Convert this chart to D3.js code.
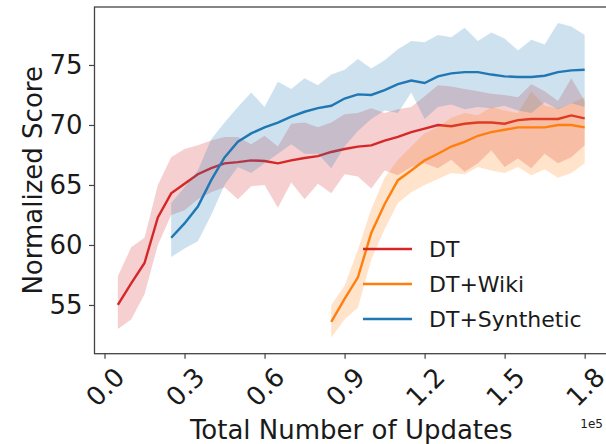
<!DOCTYPE html>
<html>
<head>
  <meta charset="utf-8">
  <script src="https://d3js.org/d3.v7.min.js"></script>
  <style>
    body { margin: 0px; background: #fff; }
    text { font-family: "DejaVu Sans", sans-serif; fill: #1a1a1a; }
  </style>
</head>
<body>
  <svg width="606" height="444"></svg>
  <script>

    // DT (updates in units of 1e5)
    const dtX = [0.05, 0.10, 0.15, 0.20, 0.25, 0.30, 0.35, 0.40, 0.45, 0.50, 0.55, 0.60,
      0.65, 0.70, 0.75, 0.80, 0.85, 0.90, 0.95, 1.00, 1.05, 1.10, 1.15, 1.20,
      1.25, 1.30, 1.35, 1.40, 1.45, 1.50, 1.55, 1.60, 1.65, 1.70, 1.75, 1.80];
    const dtMean = [55.0, 56.8, 58.5, 62.3, 64.3, 65.1, 65.9, 66.4, 66.8, 66.9, 67.05, 67.0,
      66.8, 67.05, 67.25, 67.4, 67.75, 68.0, 68.2, 68.3, 68.7, 69.0, 69.4, 69.7,
      70.0, 69.9, 70.1, 70.2, 70.2, 70.1, 70.4, 70.5, 70.5, 70.5, 70.8, 70.55];
    const dtUpper = [57.4, 59.8, 60.6, 65.0, 67.3, 68.0, 68.3, 68.7, 69.0, 69.0, 68.4, 69.1,
      68.2, 70.1, 70.2, 69.8, 70.2, 70.9, 71.0, 71.4, 71.0, 71.3, 71.5, 72.4,
      73.3, 73.2, 73.0, 72.8, 72.6, 72.5, 72.3, 73.4, 72.8, 72.0, 73.9, 72.0];
    const dtLower = [53.0, 53.8, 55.9, 60.0, 62.5, 62.9, 63.8, 64.4, 64.8, 63.8, 64.9, 65.0,
      63.1, 65.2, 63.8, 65.1, 64.3, 65.9, 65.7, 64.7, 66.2, 65.8, 66.5, 66.8,
      66.4, 67.1, 66.1, 66.8, 67.9, 66.5, 67.2, 66.4, 67.6, 66.8, 67.3, 68.3];

    // DT+Wiki
    const wikiX = [0.85, 0.90, 0.95, 1.00, 1.05, 1.10, 1.15, 1.20, 1.25, 1.30,
      1.35, 1.40, 1.45, 1.50, 1.55, 1.60, 1.65, 1.70, 1.75, 1.80];
    const wikiMean = [53.6, 55.5, 57.3, 61.0, 63.4, 65.4, 66.2, 67.05, 67.6, 68.2,
      68.6, 69.1, 69.4, 69.6, 69.8, 69.8, 69.8, 70.0, 70.0, 69.8];
    const wikiUpper = [55.0, 56.6, 59.6, 63.0, 65.6, 67.1, 68.2, 69.3, 69.8, 70.6,
      71.0, 70.8, 71.5, 71.2, 71.0, 72.8, 71.6, 71.4, 71.8, 72.3];
    const wikiLower = [52.3, 53.8, 54.8, 58.8, 61.3, 63.5, 64.4, 65.0, 65.5, 66.0,
      65.9, 66.5, 66.2, 66.0, 66.5, 65.8, 66.3, 65.6, 66.0, 66.8];

    // DT+Synthetic
    const synX = [0.25, 0.30, 0.35, 0.40, 0.45, 0.50, 0.55, 0.60, 0.65, 0.70, 0.75,
      0.80, 0.85, 0.90, 0.95, 1.00, 1.05, 1.10, 1.15, 1.20, 1.25, 1.30,
      1.35, 1.40, 1.45, 1.50, 1.55, 1.60, 1.65, 1.70, 1.75, 1.80];
    const synMean = [60.6, 61.8, 63.2, 65.4, 67.3, 68.6, 69.3, 69.8, 70.2, 70.7, 71.1,
      71.4, 71.6, 72.2, 72.55, 72.5, 72.9, 73.4, 73.7, 73.5, 74.05, 74.3,
      74.4, 74.4, 74.2, 74.05, 74.0, 74.0, 74.1, 74.4, 74.55, 74.6];
    const synUpper = [63.5, 64.8, 66.2, 68.8, 70.2, 71.5, 72.7, 71.5, 73.6, 73.0, 73.9,
      73.3, 74.2, 74.6, 75.5, 74.7, 75.4, 76.3, 77.0, 76.9, 77.5, 77.3,
      78.1, 77.0, 77.7, 77.2, 76.2, 77.1, 76.7, 78.5, 78.2, 77.5];
    const synLower = [59.0, 59.7, 60.3, 62.5, 65.0, 66.5, 66.0, 66.8, 67.6, 68.4, 67.6,
      67.6, 66.4, 68.2, 69.5, 70.5, 71.2, 71.0, 72.7, 70.5, 71.5, 71.7,
      71.3, 71.5, 71.4, 71.6, 71.2, 71.0, 71.9, 71.3, 71.8, 71.5];

    const seriesNames = ['DT', 'DT+Wiki', 'DT+Synthetic'];
    const seriesColors = ['#d62728', '#ff7f0e', '#1f77b4'];
    const xTickValues = [0.0, 0.3, 0.6, 0.9, 1.2, 1.5, 1.8];
    const yTickValues = [55, 60, 65, 70, 75];

    const series = [
      { x: dtX, mean: dtMean, upper: dtUpper, lower: dtLower },
      { x: wikiX, mean: wikiMean, upper: wikiUpper, lower: wikiLower },
      { x: synX, mean: synMean, upper: synUpper, lower: synLower }
    ];

    const svg = d3.select('svg');
    const margin = { left: 94.5, top: 7, right: -2, bottom: 90.3 };
    const width = +svg.attr('width');
    const height = +svg.attr('height');
    const innerWidth = width - margin.left - margin.right;
    const innerHeight = height - margin.top - margin.bottom;

    const xScale = d3.scaleLinear().domain([-0.0375, 1.8875]).range([0, innerWidth]);
    const yScale = d3.scaleLinear().domain([50.94, 79.83]).range([innerHeight, 0]);

    const g = svg.append('g')
      .attr('transform', `translate(${margin.left},${margin.top})`);

    //bands and lines
    series.forEach((s, i) => {
      const pts = s.x.map((x, j) => ({ x: x, m: s.mean[j], u: s.upper[j], l: s.lower[j] }));
      const area = d3.area()
        .x(d => xScale(d.x))
        .y0(d => yScale(d.l))
        .y1(d => yScale(d.u));
      const line = d3.line()
        .x(d => xScale(d.x))
        .y(d => yScale(d.m));
      g.append('path')
        .datum(pts)
        .attr('d', area)
        .attr('fill', seriesColors[i])
        .attr('fill-opacity', 0.22);
      g.append('path')
        .datum(pts)
        .attr('d', line)
        .attr('fill', 'none')
        .attr('stroke', seriesColors[i])
        .attr('stroke-width', 2.4);
    });

    //frame
    g.append('rect')
      .attr('width', innerWidth)
      .attr('height', innerHeight)
      .attr('fill', 'none')
      .attr('stroke', '#444')
      .attr('stroke-width', 1.3);

    //axes
    const xAxis = d3.axisBottom(xScale)
      .tickValues(xTickValues)
      .tickFormat(d3.format('.1f'))
      .tickSize(5)
      .tickSizeOuter(0);
    const yAxis = d3.axisLeft(yScale)
      .tickValues(yTickValues)
      .tickSize(5.5)
      .tickPadding(6.5)
      .tickSizeOuter(0);

    const xAxisG = g.append('g')
      .attr('transform', `translate(0,${innerHeight})`)
      .call(xAxis);
    const yAxisG = g.append('g').call(yAxis);

    [xAxisG, yAxisG].forEach(a => {
      a.select('.domain').remove();
      a.selectAll('.tick line').attr('stroke', '#444').attr('stroke-width', 1.2);
      a.selectAll('.tick text')
        .attr('fill', '#1a1a1a')
        .style('font-family', '"DejaVu Sans", sans-serif')
        .style('font-size', '26px');
    });

    xAxisG.selectAll('.tick text')
      .attr('y', 0)
      .attr('dy', '0.36em')
      .attr('text-anchor', 'middle')
      .attr('transform', 'translate(0,33) rotate(-45)');

    //axis labels
    svg.append('text')
      .attr('x', margin.left + innerWidth / 2)
      .attr('y', 439)
      .attr('text-anchor', 'middle')
      .style('font-size', '26px')
      .text('Total Number of Updates');

    svg.append('text')
      .attr('transform', `translate(41.5,${margin.top + innerHeight / 2}) rotate(-90)`)
      .attr('text-anchor', 'middle')
      .style('font-size', '26px')
      .text('Normalized Score');

    //offset text
    svg.append('text')
      .attr('x', 603)
      .attr('y', 428)
      .attr('text-anchor', 'end')
      .style('font-size', '12px')
      .text('1e5');

    //legend
    const legendY = [249, 284, 319];
    seriesNames.forEach((name, i) => {
      svg.append('line')
        .attr('x1', 363)
        .attr('x2', 412)
        .attr('y1', legendY[i])
        .attr('y2', legendY[i])
        .attr('stroke', seriesColors[i])
        .attr('stroke-width', 2.4);
      svg.append('text')
        .attr('x', 429)
        .attr('y', legendY[i])
        .attr('dy', '0.36em')
        .style('font-size', '22px')
        .text(name);
    });

  </script>
</body>
</html>
